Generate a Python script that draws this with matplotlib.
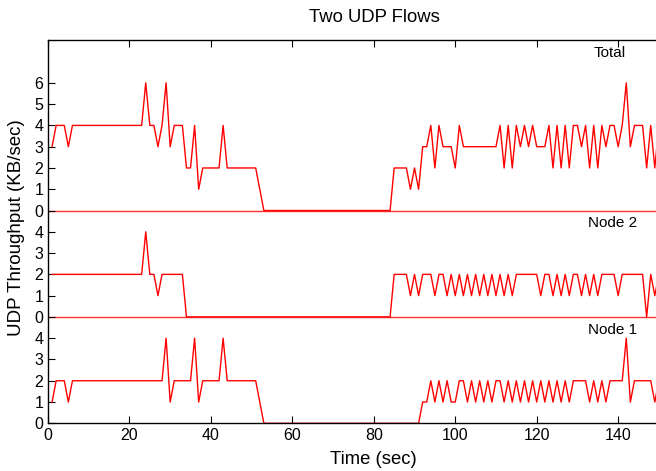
import matplotlib
matplotlib.use("Agg")
import matplotlib.pyplot as plt

plt.rcParams['font.family'] = ['Liberation Sans', 'DejaVu Sans']

time = list(range(1, 151))

node1 = [1, 2, 2, 2, 1, 2, 2, 2, 2, 2,
         2, 2, 2, 2, 2, 2, 2, 2, 2, 2,
         2, 2, 2, 2, 2, 2, 2, 2, 4, 1,
         2, 2, 2, 2, 2, 4, 1, 2, 2, 2,
         2, 2, 4, 2, 2, 2, 2, 2, 2, 2,
         2, 1, 0, 0, 0, 0, 0, 0, 0, 0,
         0, 0, 0, 0, 0, 0, 0, 0, 0, 0,
         0, 0, 0, 0, 0, 0, 0, 0, 0, 0,
         0, 0, 0, 0, 0, 0, 0, 0, 0, 0,
         0, 1, 1, 2, 1, 2, 1, 2, 1, 1,
         2, 2, 1, 2, 1, 2, 1, 2, 1, 2,
         2, 1, 2, 1, 2, 1, 2, 1, 2, 1,
         2, 1, 2, 1, 2, 1, 2, 1, 2, 2,
         2, 2, 1, 2, 1, 2, 1, 2, 2, 2,
         2, 4, 1, 2, 2, 2, 2, 2, 1, 2]

node2 = [2, 2, 2, 2, 2, 2, 2, 2, 2, 2,
         2, 2, 2, 2, 2, 2, 2, 2, 2, 2,
         2, 2, 2, 4, 2, 2, 1, 2, 2, 2,
         2, 2, 2, 0, 0, 0, 0, 0, 0, 0,
         0, 0, 0, 0, 0, 0, 0, 0, 0, 0,
         0, 0, 0, 0, 0, 0, 0, 0, 0, 0,
         0, 0, 0, 0, 0, 0, 0, 0, 0, 0,
         0, 0, 0, 0, 0, 0, 0, 0, 0, 0,
         0, 0, 0, 0, 2, 2, 2, 2, 1, 2,
         1, 2, 2, 2, 1, 2, 2, 1, 2, 1,
         2, 1, 2, 1, 2, 1, 2, 1, 2, 1,
         2, 1, 2, 1, 2, 2, 2, 2, 2, 2,
         1, 2, 2, 1, 2, 1, 2, 1, 2, 2,
         1, 2, 1, 2, 1, 2, 2, 2, 2, 1,
         2, 2, 2, 2, 2, 2, 0, 2, 1, 2]

total = [3, 4, 4, 4, 3, 4, 4, 4, 4, 4,
         4, 4, 4, 4, 4, 4, 4, 4, 4, 4,
         4, 4, 4, 6, 4, 4, 3, 4, 6, 3,
         4, 4, 4, 2, 2, 4, 1, 2, 2, 2,
         2, 2, 4, 2, 2, 2, 2, 2, 2, 2,
         2, 1, 0, 0, 0, 0, 0, 0, 0, 0,
         0, 0, 0, 0, 0, 0, 0, 0, 0, 0,
         0, 0, 0, 0, 0, 0, 0, 0, 0, 0,
         0, 0, 0, 0, 2, 2, 2, 2, 1, 2,
         1, 3, 3, 4, 2, 4, 3, 3, 3, 2,
         4, 3, 3, 3, 3, 3, 3, 3, 3, 3,
         4, 2, 4, 2, 4, 3, 4, 3, 4, 3,
         3, 3, 4, 2, 4, 2, 4, 2, 4, 4,
         3, 4, 2, 4, 2, 4, 3, 4, 4, 3,
         4, 6, 3, 4, 4, 4, 2, 4, 2, 4]

panel_names = ["Node 1", "Node 2", "Total"]
panel_series = [node1, node2, total]
panel_offsets = [0, 5, 10]
panel_tick_labels = [["0", "1", "2", "3", "4"],
                     ["0", "1", "2", "3", "4"],
                     ["0", "1", "2", "3", "4", "5", "6"]]
label_pos = [(138.7, 4.38), (138.6, 9.43), (137.8, 17.42)]
xticks = [0, 20, 40, 60, 80, 100, 120, 140]

W, H = 656, 471
fig = plt.figure(figsize=(W / 100, H / 100), dpi=100)
left, right, top, bottom = 48, 699.6, 40.3, 423.3
ax = fig.add_axes([left / W, 1 - bottom / H, (right - left) / W, (bottom - top) / H])

yt, ytl = [], []
for name, ser, off, tl, (lx, ly) in zip(panel_names, panel_series, panel_offsets,
                                          panel_tick_labels, label_pos):
    if off > 0:
        ax.axhline(off, color='#ff3030', lw=1.0, zorder=1)
    ax.plot(time, [v + off for v in ser], color='red', lw=1.0, zorder=2)
    ax.text(lx, ly, name, ha='center', va='center', fontsize=11)
    for i, s in enumerate(tl):
        yt.append(off + i)
        ytl.append(s)

ax.set_xlim(0, 160)
ax.set_ylim(0, 18)
ax.set_xticks(xticks)
ax.set_yticks(yt)
ax.set_yticklabels(ytl)
ax.tick_params(direction='in', top=True, right=True, length=5, labelsize=11.5)
for sp in ax.spines.values():
    sp.set_linewidth(1.0)

fig.text(374 / W, 1 - 18 / H, "Two UDP Flows", ha='center', va='center', fontsize=13.3)
fig.text(373 / W, 1 - 460 / H, "Time (sec)", ha='center', va='center', fontsize=13.3)
fig.text(17 / W, 1 - 228 / H, "UDP Throughput (KB/sec)", ha='center', va='center',
         rotation=90, fontsize=13.5)

fig.savefig("out.png", dpi=100)
